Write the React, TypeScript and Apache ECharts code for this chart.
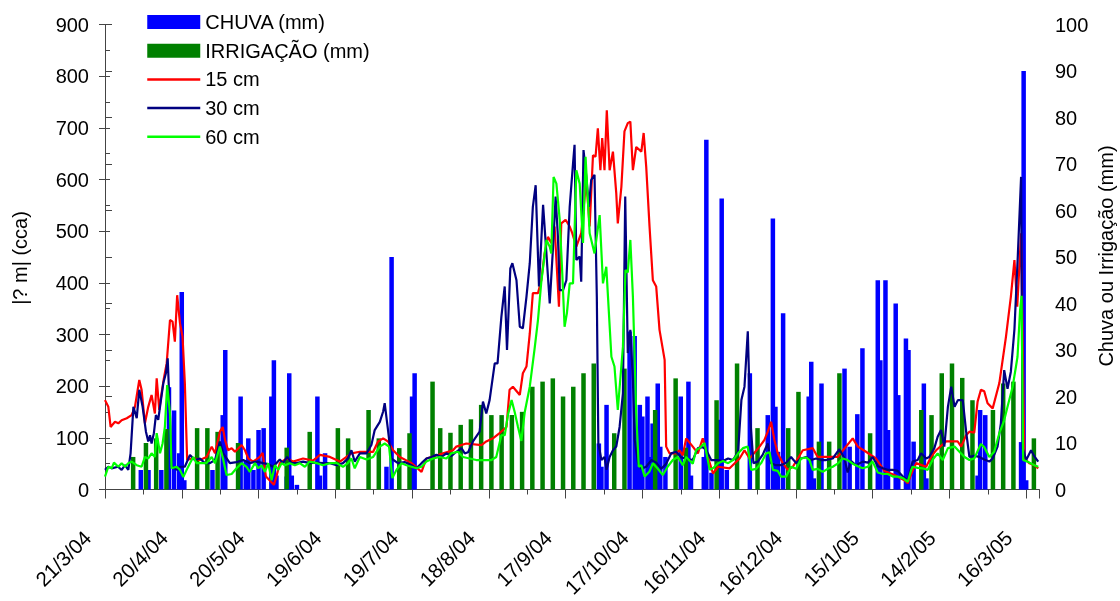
import React, { useEffect, useRef } from "react";
import * as echarts from "echarts";

const dateLabels = ["21/3/04", "20/4/04", "20/5/04", "19/6/04", "19/7/04", "18/8/04", "17/9/04", "17/10/04", "16/11/04", "16/12/04", "15/1/05", "14/2/05", "16/3/05"];

// [day since 21/3/04, mm]
const chuva: [number, number][] = [
  [14, 4.2], [17, 4.2], [22, 4.2], [25, 22], [27, 17], [29, 7.8], [30, 42.5], [31, 2], [42, 4.2], [46, 16], [47, 30],
  [53, 20], [55, 6.3], [56, 11], [58, 4.2], [60, 12.8], [62, 13.2], [65, 20], [66, 27.8], [67, 3], [71, 2.8], [72, 25],
  [73, 3], [75, 1], [83, 20], [84, 3], [86, 7.8], [110, 4.9], [112, 50], [120, 20], [121, 25], [193, 9.9], [194, 4.9],
  [196, 18.2], [205, 34], [207, 33], [208, 10.3], [209, 18.2], [210, 15.7], [212, 20], [213, 7], [214, 14.2], [216, 22.8],
  [217, 9.2], [219, 7], [225, 20], [228, 23.2], [229, 3], [234, 7], [235, 75.2], [237, 3.6], [240, 15], [241, 62.6],
  [243, 4.2], [252, 25], [259, 16], [261, 58.3], [262, 17.8], [263, 8.1], [265, 37.9], [275, 20], [276, 27.5], [277, 2.4],
  [280, 22.8], [289, 26], [291, 9.2], [294, 16.2], [296, 30.4], [302, 45], [303, 27.8], [305, 45], [306, 12.8], [309, 40],
  [310, 20.3], [313, 32.5], [314, 30], [316, 10.3], [320, 22.8], [321, 2.4], [341, 3], [342, 17.1], [344, 16], [358, 10.2],
  [359, 90], [360, 2],
];

const irrigacao: [number, number][] = [
  [11, 7], [16, 10], [20, 11], [24, 13], [36, 13.2], [40, 13.2], [44, 12.4], [52, 10], [71, 9], [80, 12.4], [91, 13.2],
  [95, 11], [103, 17.1], [107, 11], [115, 8.9], [119, 12.1], [128, 23.2], [131, 13.2], [135, 12.2], [139, 13.9], [143, 15.1],
  [147, 18.2], [151, 16], [155, 16], [159, 16], [163, 16.7], [167, 22.1], [171, 23.2], [175, 23.9], [179, 20], [183, 22.1],
  [187, 25], [191, 27.1], [199, 12.1], [203, 26], [215, 17.1], [223, 23.9], [227, 9], [239, 19.2], [247, 27.1], [255, 13.2],
  [267, 13.2], [271, 21], [279, 10.3], [283, 10.3], [287, 25], [299, 12.1], [319, 17.1], [323, 16], [327, 25], [331, 27.1],
  [335, 24], [339, 19.2], [347, 17.1], [351, 22.8], [355, 23.2], [363, 11],
];

const cm15: [number, number][] = [
  [0, 173], [1.3, 160], [2.2, 121], [3.9, 131], [5.2, 128], [6.5, 134], [8.5, 138], [10.4, 144], [11.7, 160], [13.4, 212],
  [14.3, 193], [15.6, 128], [16.9, 160], [18.2, 183], [19.5, 147], [20.2, 215], [21.2, 154], [22.1, 186], [23, 215],
  [24.1, 244], [25.4, 328], [26.4, 325], [27.3, 286], [28.2, 376], [29.3, 322], [30.3, 296], [31.2, 206], [32.1, 57],
  [34.5, 61], [37.1, 57], [39.7, 63], [41.7, 83], [43, 70], [44.9, 112], [46, 121], [46.9, 96], [48.1, 76], [49.5, 80],
  [50.8, 73], [53.4, 86], [54.7, 76], [56, 60], [57.9, 54], [60.5, 63], [61.6, 71], [62.9, 25], [66, 9], [67, 25],
  [68.3, 51], [71, 60], [73.5, 54], [77.4, 60], [81.3, 56], [84, 67], [87.9, 63], [91.8, 54], [96.3, 70], [99.6, 73],
  [104.8, 73], [106.7, 93], [108.7, 99], [110.6, 93], [112.6, 76], [115.2, 63], [119.8, 51], [123.7, 34], [125.6, 60],
  [127.6, 63], [132.1, 70], [136, 76], [137.3, 83], [141.2, 89], [147.1, 86], [149, 93], [151.6, 99], [154.2, 109],
  [156.9, 121], [158.1, 193], [159.4, 199], [162.1, 183], [163.3, 225], [164.7, 238], [166, 302], [167.2, 380],
  [169.2, 380], [170.5, 405], [171.8, 457], [173.1, 489], [174.4, 477], [175.7, 509], [177.4, 354], [178.3, 515],
  [180, 522], [181.6, 509], [182.6, 496], [184.2, 470], [186.1, 496], [188.1, 599], [189.4, 509], [190.7, 647],
  [191.7, 644], [192.6, 699], [193.6, 618], [194.3, 680], [195.2, 618], [196.1, 734], [197.2, 618], [198.5, 654],
  [199.8, 573], [200.4, 515], [201.8, 586], [203, 693], [204.3, 709], [205.3, 712], [206.3, 618], [207.6, 663],
  [209.6, 654], [210.5, 690], [211.5, 625], [212.8, 509], [214.1, 405], [215.4, 393], [216.7, 309], [218.7, 251],
  [219.3, 83], [220.6, 70], [223.2, 70], [224.5, 76], [225.8, 66], [227.1, 99], [229.7, 83], [231.7, 70], [233.6, 99],
  [235.6, 63], [237.6, 31], [239.6, 44], [244.1, 41], [248, 60], [249.9, 76], [251.9, 60], [255.8, 83], [257.7, 96],
  [259, 112], [260.3, 131], [261.6, 96], [262.9, 70], [264.9, 51], [266.8, 38], [268.8, 44], [272.7, 76], [276.6, 80],
  [278.5, 63], [286.3, 63], [292.2, 99], [294.2, 83], [297.4, 73], [301.3, 60], [304.6, 36], [308.5, 28], [312.4, 18],
  [313.7, 12], [315.6, 36], [317, 51], [320.9, 44], [322.8, 63], [324.8, 76], [328.7, 93], [333.2, 93], [334.6, 83],
  [336.5, 105], [337.8, 112], [339.7, 110], [341, 170], [342.3, 193], [343.6, 190], [344.9, 167], [346.9, 157],
  [349.5, 206], [350.8, 251], [352.1, 296], [354, 373], [355.4, 444], [356.5, 354], [358, 496], [359.3, 60], [361.2, 51],
  [363.2, 47], [364.7, 41],
];

const cm30: [number, number][] = [
  [0, 38], [1.3, 44], [2.6, 41], [5.1, 44], [6.5, 38], [7.8, 47], [9.1, 38], [10, 70], [11.1, 160], [12.4, 138],
  [13.4, 193], [14.7, 160], [16, 112], [16.9, 93], [17.6, 105], [18.2, 89], [19.1, 109], [19.9, 144], [20.8, 135],
  [21.7, 167], [22.8, 206], [23.8, 225], [24.5, 254], [25.4, 141], [26, 44], [28.2, 38], [29.3, 44], [31.2, 44], [33.2, 67],
  [35.1, 57], [37.1, 60], [39, 51], [41, 51], [43, 57], [44.9, 93], [46.2, 70], [48.8, 51], [51.4, 53], [54, 57], [56.6, 51],
  [59.2, 54], [61.8, 51], [63.8, 49], [65.7, 44], [68.3, 58], [69.6, 51], [71.2, 63], [72.9, 51], [74.9, 51], [77.4, 54],
  [80, 51], [82.7, 52], [85.2, 51], [87.9, 51], [90.5, 47], [93, 51], [94.9, 60], [96.3, 76], [97.6, 54], [99.6, 70],
  [102.2, 70], [104.1, 86], [105.4, 115], [107.4, 131], [108.7, 151], [109.3, 167], [110.6, 115], [111.9, 60],
  [114.5, 51], [117.1, 53], [119.8, 47], [121.7, 41], [123.7, 51], [125.6, 60], [127.6, 63], [129.5, 67], [131.5, 63],
  [133.4, 70], [135.4, 65], [137.3, 73], [139.3, 80], [140.6, 70], [141.9, 72], [143.8, 93], [146.4, 112], [147.7, 170],
  [149, 147], [150.3, 173], [152.3, 244], [153.4, 244], [154.9, 334], [156.2, 393], [157.1, 270], [158.4, 428],
  [159.2, 438], [160.8, 405], [162.1, 315], [163.3, 312], [164.7, 373], [166, 438], [167.2, 547], [168.3, 589],
  [169.6, 393], [171.2, 551], [172.5, 457], [173.8, 360], [175.1, 470], [176.1, 567], [177, 489], [177.7, 386],
  [179, 386], [180.3, 405], [181.6, 547], [182.9, 631], [183.5, 667], [184.2, 444], [185.5, 451], [186.1, 402],
  [187, 657], [188.1, 605], [189.1, 547], [190, 599], [191.3, 609], [192.2, 373], [192.8, 89], [194, 57], [195.2, 63],
  [196, 38], [197.2, 63], [198.5, 76], [199.8, 83], [201.1, 121], [202.4, 186], [203.3, 567], [204.3, 264], [205.3, 309],
  [206.3, 212], [207, 96], [208.3, 51], [209.6, 40], [211.5, 44], [213.5, 57], [215.4, 52], [217.4, 40], [219.3, 50],
  [221.3, 70], [223.2, 73], [225.2, 62], [227.1, 60], [229.7, 57], [231.7, 80], [233.6, 82], [235, 76], [236.9, 57],
  [239.6, 57], [241.5, 55], [243.5, 60], [245.4, 57], [247.4, 73], [248.7, 173], [249.9, 199], [251.2, 306], [252.1, 141],
  [253.4, 51], [255.1, 54], [257, 67], [259, 89], [260.3, 51], [262.2, 47], [264.2, 47], [266.2, 52], [268.1, 63],
  [270.1, 51], [272, 60], [274, 63], [275.9, 57], [277.9, 60], [279.8, 57], [281.8, 57], [284.4, 60], [287, 78], [289, 60],
  [290.2, 33], [291.6, 55], [293.5, 47], [296.1, 54], [298.1, 52], [300, 63], [302, 45], [304, 41], [305.9, 38], [307.9, 38],
  [309.8, 36], [311.8, 25], [313.7, 18], [315.6, 54], [317.6, 57], [318.9, 70], [320.9, 60], [322.1, 63], [324.1, 80],
  [325.4, 102], [326.7, 115], [328, 83], [329.4, 160], [330.7, 199], [332, 160], [333.3, 173], [335.2, 173], [336.6, 109],
  [337.8, 63], [339.7, 65], [341.7, 63], [343.6, 58], [345.6, 54], [346.9, 60], [348.8, 83], [350.1, 128], [351.4, 231],
  [352.7, 195], [354, 228], [355.4, 310], [356.7, 450], [358, 605], [358.6, 80], [360, 57], [361.9, 76], [363.2, 64],
  [364.7, 54],
];

const cm60: [number, number][] = [
  [0, 25], [1.3, 44], [2.6, 41], [3.5, 52], [5.2, 44], [6.5, 51], [7.8, 44], [9.1, 51], [10.4, 54], [12.4, 47], [14.3, 44],
  [15.6, 63], [16.9, 60], [18.2, 70], [19.5, 63], [20.2, 109], [21.5, 70], [22.5, 89], [23.4, 121], [24.3, 202],
  [25.4, 147], [26, 41], [28, 44], [29.3, 38], [30.6, 24], [31.9, 38], [33.2, 51], [34.5, 63], [35.8, 51], [37.7, 51],
  [39.7, 51], [41.7, 63], [43, 51], [44.9, 83], [46.2, 58], [47.5, 28], [49.5, 30], [51.4, 41], [53.4, 51], [55.3, 44],
  [56.6, 34], [58.6, 51], [59.9, 41], [61.2, 47], [62.5, 34], [63.8, 51], [65.1, 18], [66.4, 47], [67.7, 38], [69, 51],
  [70.3, 47], [72.2, 51], [74.2, 47], [76.1, 51], [78.1, 44], [80, 54], [82.7, 51], [85.2, 47], [87.9, 51], [90.5, 51],
  [93, 44], [94.9, 51], [96.3, 60], [97.6, 41], [99.6, 63], [102.2, 58], [104.8, 63], [107.4, 83], [109.3, 89], [111, 83],
  [112.3, 22], [113.9, 38], [115.9, 51], [117.8, 47], [119.8, 44], [121.7, 41], [123.7, 44], [125.6, 54], [128.2, 60],
  [130.8, 63], [133.4, 60], [135.4, 70], [137.9, 73], [139.9, 63], [142.5, 60], [145.1, 57], [147.7, 57], [151, 57],
  [152.9, 63], [154.9, 105], [156.2, 105], [157.5, 145], [158.9, 173], [160.1, 150], [161.4, 121], [162.7, 94],
  [164, 149], [166, 199], [167.9, 273], [169.2, 328], [170.5, 402], [172.5, 483], [173.8, 470], [174.4, 457], [175.3, 605],
  [176.4, 592], [177.7, 522], [178.7, 418], [179.6, 315], [180.5, 341], [181.6, 399], [182.9, 399], [184.2, 618],
  [185.5, 592], [186.8, 477], [187.8, 644], [189.4, 496], [191.3, 457], [193.3, 531], [194.6, 399], [195.9, 431],
  [197.9, 257], [199.1, 238], [200.4, 154], [202.4, 276], [203.4, 425], [204.3, 420], [205.3, 483], [206.3, 373],
  [207.6, 147], [208.6, 44], [209.6, 47], [210.9, 25], [212.8, 35], [214.1, 51], [216.1, 40], [218, 28], [220, 45],
  [221.9, 57], [223.9, 63], [225.8, 47], [227.1, 63], [229.7, 50], [231, 76], [232.3, 80], [234.3, 90], [236.3, 38],
  [237.8, 42], [239.6, 51], [241.5, 55], [243.5, 51], [245.4, 57], [247.4, 70], [249.3, 80], [251.2, 83], [252.5, 38],
  [254.5, 40], [256.4, 51], [258.4, 70], [259.7, 72], [261, 38], [262.9, 36], [264.2, 25], [266.2, 25], [268.1, 44],
  [270.1, 40], [272, 60], [274, 62], [275.3, 57], [276.6, 38], [278.5, 40], [280.5, 34], [282.4, 40], [284.4, 44],
  [286.3, 50], [288.3, 60], [290.2, 57], [292.2, 50], [294.2, 45], [296.1, 41], [298.1, 44], [300, 54], [302, 33], [304, 30],
  [305.9, 30], [307.9, 25], [309.8, 25], [311.8, 22], [313.7, 15], [315.1, 38], [315.6, 44], [317.6, 42], [319.6, 41],
  [321.5, 38], [323.5, 58], [325.4, 70], [327.4, 57], [329.4, 80], [332, 83], [333.9, 73], [335.9, 63], [337.8, 57],
  [339.7, 60], [342.3, 88], [343.6, 82], [345.6, 63], [347.5, 73], [349.5, 109], [351.4, 134], [352.7, 160], [354.7, 199],
  [356, 238], [356.6, 257], [357.6, 347], [358.2, 375], [358.8, 57], [360.5, 54], [363.2, 47], [364.7, 44],
];

const FONT = "'Liberation Sans', Arial, Helvetica, sans-serif";
const AXIS = "#444";

export default function App() {
  const ref = useRef<HTMLDivElement>(null);
  useEffect(() => {
    if (!ref.current) return;
    const chart = echarts.init(ref.current, null, { renderer: "svg" });
    const lineSeries = (name: string, data: [number, number][], color: string) => ({
      name,
      type: "line",
      data,
      xAxisIndex: 0,
      yAxisIndex: 0,
      symbol: "none",
      showSymbol: false,
      lineStyle: { color, width: 2.2 },
      itemStyle: { color },
    });
    const hiddenSymbol = { color: "rgba(0,0,0,0)", borderWidth: 0, opacity: 0 };
    chart.setOption({
      animation: false,
      textStyle: { fontFamily: FONT },
      grid: { left: 105, top: 24.5, width: 934, height: 465, containLabel: false, outerBoundsMode: "none" },
      legend: {
        left: 141,
        top: 7,
        padding: 5,
        orient: "vertical",
        itemWidth: 53,
        itemHeight: 14,
        itemGap: 8.7,
        textStyle: { fontSize: 20, color: "#000", fontFamily: FONT },
        data: [
          { name: "CHUVA (mm)", icon: "rect" },
          { name: "IRRIGAÇÃO (mm)", icon: "rect" },
          { name: "15 cm", itemStyle: hiddenSymbol, lineStyle: { width: 2.5 } },
          { name: "30 cm", itemStyle: hiddenSymbol, lineStyle: { width: 2.5 } },
          { name: "60 cm", itemStyle: hiddenSymbol, lineStyle: { width: 2.5 } },
        ],
      },
      xAxis: [
        {
          type: "value",
          min: 0,
          max: 365,
          interval: 30,
          position: "bottom",
          axisLine: { show: true, lineStyle: { color: AXIS, width: 1 } },
          axisTick: { show: true, length: 9, lineStyle: { color: AXIS } },
          splitLine: { show: false },
          axisLabel: {
            rotate: 45,
            margin: 27,
            padding: [0, 25, 0, 0],
            fontSize: 20.5,
            color: "#000",
            fontFamily: FONT,
            formatter: (v: number) => {
              const i = v / 30;
              return Number.isInteger(i) && i < dateLabels.length ? dateLabels[i] : "";
            },
          },
        },
        {
          type: "value",
          min: 0,
          max: 365,
          interval: 15,
          position: "bottom",
          axisLine: { show: false },
          axisTick: { show: true, length: 5, lineStyle: { color: AXIS } },
          axisLabel: { show: false },
          splitLine: { show: false },
        },
      ],
      yAxis: [
        {
          type: "value",
          min: 0,
          max: 900,
          interval: 100,
          position: "left",
          axisLine: { show: true, lineStyle: { color: AXIS, width: 1 } },
          axisTick: { show: true, length: 6, lineStyle: { color: AXIS } },
          axisLabel: { margin: 16, fontSize: 20, color: "#000", fontFamily: FONT },
          splitLine: { show: false },
        },
        {
          type: "value",
          min: 0,
          max: 100,
          interval: 10,
          position: "right",
          axisLine: { show: true, lineStyle: { color: AXIS, width: 1 } },
          axisTick: { show: true, length: 7, lineStyle: { color: AXIS } },
          axisLabel: { margin: 16, fontSize: 20, color: "#000", fontFamily: FONT },
          splitLine: { show: false },
        },
        {
          type: "value",
          min: 0,
          max: 900,
          interval: 50,
          position: "left",
          axisLine: { show: false },
          axisTick: { show: true, inside: true, length: 5, lineStyle: { color: AXIS } },
          axisLabel: { show: false },
          splitLine: { show: false },
        },
      ],
      graphic: [
        {
          type: "text",
          x: 20,
          y: 258,
          rotation: Math.PI / 2,
          style: {
            text: "|? m| (cca)",
            fontSize: 20,
            fontFamily: FONT,
            fill: "#000",
            align: "center",
            verticalAlign: "middle",
          },
        },
        {
          type: "text",
          x: 1106,
          y: 256,
          rotation: Math.PI / 2,
          style: {
            text: "Chuva ou Irrigação (mm)",
            fontSize: 20,
            fontFamily: FONT,
            fill: "#000",
            align: "center",
            verticalAlign: "middle",
          },
        },
      ],
      series: [
        {
          name: "CHUVA (mm)",
          type: "bar",
          data: chuva,
          xAxisIndex: 0,
          yAxisIndex: 1,
          barWidth: 4.5,
          barGap: "-100%",
          itemStyle: { color: "#0000FF" },
        },
        {
          name: "IRRIGAÇÃO (mm)",
          type: "bar",
          data: irrigacao,
          xAxisIndex: 0,
          yAxisIndex: 1,
          barWidth: 4.5,
          barGap: "-100%",
          itemStyle: { color: "#008000" },
        },
        lineSeries("15 cm", cm15, "#FF0000"),
        lineSeries("30 cm", cm30, "#000080"),
        lineSeries("60 cm", cm60, "#00FF00"),
      ],
    });
    return () => chart.dispose();
  }, []);
  return <div ref={ref} style={{ position: "fixed", left: 0, top: 0, width: 1120, height: 601 }} />;
}
